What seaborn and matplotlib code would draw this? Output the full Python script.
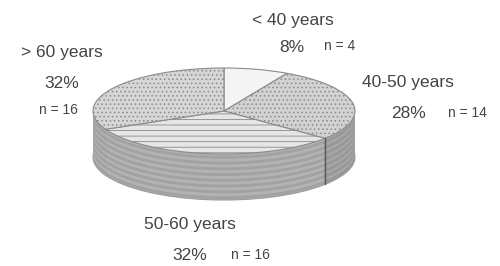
import numpy as np
import matplotlib
matplotlib.use("Agg")
import matplotlib.pyplot as plt
import seaborn as sns

# age groups of the sample
groups = ["< 40 years", "40-50 years", "50-60 years", "> 60 years"]
counts = [4, 14, 16, 16]
percents = ["8%", "28%", "32%", "32%"]

top_colors = ["#f4f4f4", "#d2d2d2", "#e6e6e6", "#d6d6d6"]
side_dark = ["#bdbdbd", "#979797", "#a2a2a2", "#a0a0a0"]
side_light = ["#c8c8c8", "#a6a6a6", "#b3b3b3", "#b0b0b0"]
hatches = ["", "....", "---", "...."]

sns.set_theme(style="white")
plt.rcParams["font.family"] = ["Liberation Sans", "DejaVu Sans"]
plt.rcParams["hatch.color"] = "#bcbcbc"
plt.rcParams["hatch.linewidth"] = 0.6

fig = plt.figure(figsize=(5, 2.66), dpi=100)
ax = fig.add_axes([0, 0, 1, 1])

depth = 1.07
n_layers = 48

# side of the cylinder: stacked pies shifted downwards, striped
for i in range(n_layers, 0, -1):
    dy = -depth * i / n_layers
    cols = side_light if (i // 3) % 2 == 0 else side_dark
    wedges, _ = ax.pie(counts, colors=cols, startangle=90,
                       counterclock=False, center=(0, dy), frame=True,
                       wedgeprops=dict(linewidth=0))
    if i == n_layers:
        for w in wedges:
            w.set_edgecolor("#9a9a9a")
            w.set_linewidth(0.8)

# boundary line visible on the front side
cum = np.cumsum(counts) / sum(counts)
ang = np.deg2rad(90 - 360 * cum[1])
ax.plot([np.cos(ang)] * 2, [np.sin(ang), np.sin(ang) - depth],
        color="#555555", lw=1)

# top face
wedges, _ = ax.pie(counts, colors=top_colors, startangle=90,
                   counterclock=False, center=(0, 0), frame=True,
                   wedgeprops=dict(linewidth=0.8, edgecolor="#8a8a8a"))
for w, h in zip(wedges, hatches):
    if h:
        w.set_hatch(h)

ax.set_aspect("auto")
ax.set_xlim(-224 / 131, 276 / 131)
ax.set_ylim(-155 / 43, 111 / 43)
ax.axis("off")

# labels in pixel-like positions (x from left, y from top)
def px(x, y):
    return (x - 224) / 131, (111 - y) / 43

tc = "#444444"
label_pos = [(293, 20), (408, 83), (190, 225), (62, 53)]
pct_pos = [(292, 47), (408, 113), (190, 255), (62, 83)]
n_pos = [(340, 46), (467, 113), (250, 255), (58, 110)]

for g, p, c, lp, pp, npos in zip(groups, percents, counts, label_pos, pct_pos, n_pos):
    ax.text(*px(*lp), g, ha="center", va="center", fontsize=12.5, color=tc)
    ax.text(*px(*pp), p, ha="center", va="center", fontsize=12.5, color=tc)
    ax.text(*px(*npos), f"n = {c}", ha="center", va="center", fontsize=10, color=tc)

fig.savefig("out.png", dpi=100)
